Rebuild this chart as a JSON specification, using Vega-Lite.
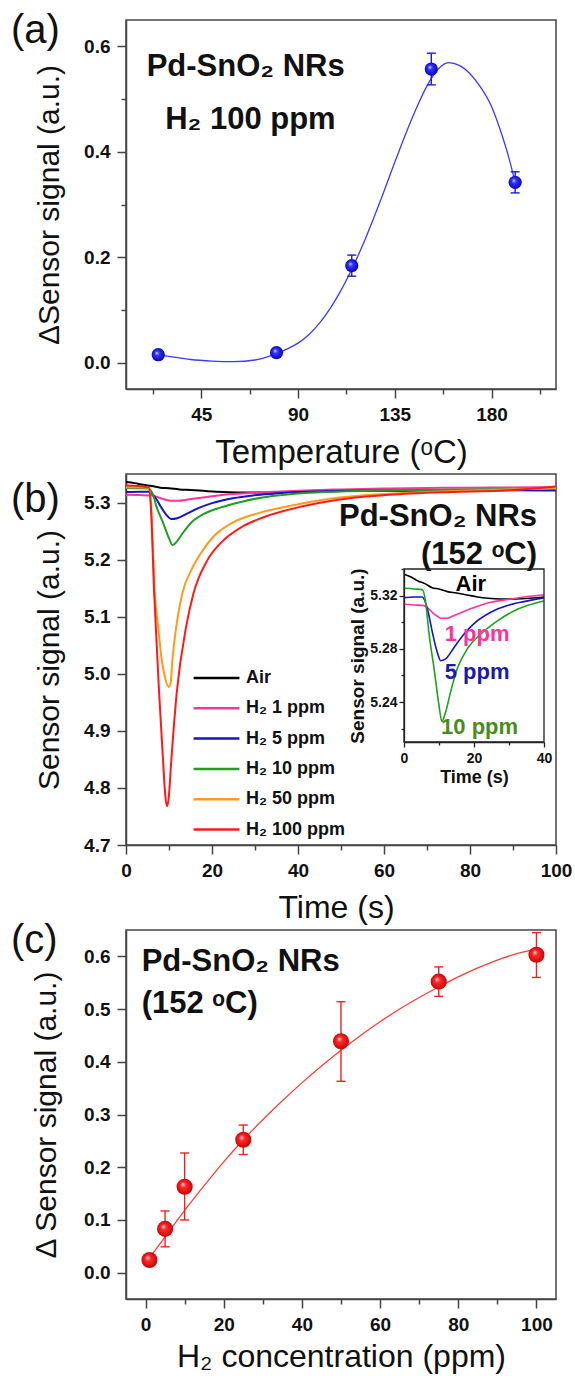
{
  "$schema": "https://vega.github.io/schema/vega-lite/v6.json",
  "background": "white",
  "padding": {"left": 10, "top": 10, "right": 5, "bottom": 2},
  "bounds": "flush",
  "spacing": 85,
  "datasets": {
    "curveA": [
      {"T": 25, "v": 0.015}, {"T": 30, "v": 0.012}, {"T": 40, "v": 0.006}, {"T": 50, "v": 0.003},
      {"T": 60, "v": 0.002}, {"T": 70, "v": 0.005}, {"T": 75, "v": 0.01}, {"T": 80, "v": 0.017},
      {"T": 85, "v": 0.026}, {"T": 90, "v": 0.037}, {"T": 95, "v": 0.053}, {"T": 100, "v": 0.075},
      {"T": 105, "v": 0.103}, {"T": 110, "v": 0.137}, {"T": 115, "v": 0.177}, {"T": 120, "v": 0.222},
      {"T": 125, "v": 0.272}, {"T": 130, "v": 0.325}, {"T": 135, "v": 0.38}, {"T": 140, "v": 0.433},
      {"T": 145, "v": 0.482}, {"T": 150, "v": 0.525}, {"T": 155, "v": 0.556}, {"T": 160, "v": 0.569},
      {"T": 165, "v": 0.564}, {"T": 170, "v": 0.548}, {"T": 175, "v": 0.522}, {"T": 180, "v": 0.486},
      {"T": 185, "v": 0.43}, {"T": 188, "v": 0.39}, {"T": 191, "v": 0.342}
    ],
    "pointsA": [
      {"T": 25, "v": 0.015, "lo": 0.011, "hi": 0.019},
      {"T": 80, "v": 0.019, "lo": 0.015, "hi": 0.023},
      {"T": 115, "v": 0.184, "lo": 0.164, "hi": 0.204},
      {"T": 152, "v": 0.557, "lo": 0.527, "hi": 0.587},
      {"T": 191, "v": 0.342, "lo": 0.322, "hi": 0.362}
    ],
    "traces": [
      {"s": "Air", "t": 0, "v": 5.336}, {"s": "Air", "t": 2, "v": 5.334}, {"s": "Air", "t": 4, "v": 5.331},
      {"s": "Air", "t": 6, "v": 5.329}, {"s": "Air", "t": 8, "v": 5.326}, {"s": "Air", "t": 10, "v": 5.325},
      {"s": "Air", "t": 12.4, "v": 5.323}, {"s": "Air", "t": 15, "v": 5.322}, {"s": "Air", "t": 18, "v": 5.3205},
      {"s": "Air", "t": 21, "v": 5.319}, {"s": "Air", "t": 24, "v": 5.318}, {"s": "Air", "t": 27.6, "v": 5.3175},
      {"s": "Air", "t": 32, "v": 5.3175}, {"s": "Air", "t": 36, "v": 5.318}, {"s": "Air", "t": 40, "v": 5.319},
      {"s": "Air", "t": 50, "v": 5.32}, {"s": "Air", "t": 60, "v": 5.3205}, {"s": "Air", "t": 70, "v": 5.321},
      {"s": "Air", "t": 80, "v": 5.321}, {"s": "Air", "t": 90, "v": 5.322}, {"s": "Air", "t": 100, "v": 5.322},

      {"s": "H₂ 1 ppm", "t": 0, "v": 5.3135}, {"s": "H₂ 1 ppm", "t": 3, "v": 5.313}, {"s": "H₂ 1 ppm", "t": 5.7, "v": 5.3125},
      {"s": "H₂ 1 ppm", "t": 7.1, "v": 5.31}, {"s": "H₂ 1 ppm", "t": 8.3, "v": 5.3068}, {"s": "H₂ 1 ppm", "t": 9.5, "v": 5.3045},
      {"s": "H₂ 1 ppm", "t": 10.5, "v": 5.303}, {"s": "H₂ 1 ppm", "t": 12.4, "v": 5.303}, {"s": "H₂ 1 ppm", "t": 13.8, "v": 5.3045},
      {"s": "H₂ 1 ppm", "t": 15.2, "v": 5.306}, {"s": "H₂ 1 ppm", "t": 17.5, "v": 5.3085}, {"s": "H₂ 1 ppm", "t": 20, "v": 5.311},
      {"s": "H₂ 1 ppm", "t": 24.8, "v": 5.315}, {"s": "H₂ 1 ppm", "t": 29.5, "v": 5.317}, {"s": "H₂ 1 ppm", "t": 34.3, "v": 5.319},
      {"s": "H₂ 1 ppm", "t": 40, "v": 5.3207}, {"s": "H₂ 1 ppm", "t": 45, "v": 5.322}, {"s": "H₂ 1 ppm", "t": 50, "v": 5.323},
      {"s": "H₂ 1 ppm", "t": 60, "v": 5.3245}, {"s": "H₂ 1 ppm", "t": 70, "v": 5.3255}, {"s": "H₂ 1 ppm", "t": 80, "v": 5.326},
      {"s": "H₂ 1 ppm", "t": 90, "v": 5.3265}, {"s": "H₂ 1 ppm", "t": 100, "v": 5.327},

      {"s": "H₂ 5 ppm", "t": 0, "v": 5.3185}, {"s": "H₂ 5 ppm", "t": 3, "v": 5.319}, {"s": "H₂ 5 ppm", "t": 5.2, "v": 5.319},
      {"s": "H₂ 5 ppm", "t": 6.7, "v": 5.31}, {"s": "H₂ 5 ppm", "t": 8.1, "v": 5.2925}, {"s": "H₂ 5 ppm", "t": 9.5, "v": 5.2775},
      {"s": "H₂ 5 ppm", "t": 10.5, "v": 5.271}, {"s": "H₂ 5 ppm", "t": 11.9, "v": 5.2725}, {"s": "H₂ 5 ppm", "t": 14.3, "v": 5.281},
      {"s": "H₂ 5 ppm", "t": 17.1, "v": 5.291}, {"s": "H₂ 5 ppm", "t": 20, "v": 5.299}, {"s": "H₂ 5 ppm", "t": 24.8, "v": 5.3075},
      {"s": "H₂ 5 ppm", "t": 29.5, "v": 5.3125}, {"s": "H₂ 5 ppm", "t": 34.3, "v": 5.3155}, {"s": "H₂ 5 ppm", "t": 40, "v": 5.3183},
      {"s": "H₂ 5 ppm", "t": 45, "v": 5.3195}, {"s": "H₂ 5 ppm", "t": 50, "v": 5.3205}, {"s": "H₂ 5 ppm", "t": 60, "v": 5.321},
      {"s": "H₂ 5 ppm", "t": 70, "v": 5.3215}, {"s": "H₂ 5 ppm", "t": 80, "v": 5.3215}, {"s": "H₂ 5 ppm", "t": 90, "v": 5.3215},
      {"s": "H₂ 5 ppm", "t": 100, "v": 5.321},

      {"s": "H₂ 10 ppm", "t": 0, "v": 5.3255}, {"s": "H₂ 10 ppm", "t": 3, "v": 5.325}, {"s": "H₂ 10 ppm", "t": 5.2, "v": 5.3245},
      {"s": "H₂ 10 ppm", "t": 6.2, "v": 5.315}, {"s": "H₂ 10 ppm", "t": 7.1, "v": 5.2925}, {"s": "H₂ 10 ppm", "t": 8.6, "v": 5.265},
      {"s": "H₂ 10 ppm", "t": 10, "v": 5.2375}, {"s": "H₂ 10 ppm", "t": 10.8, "v": 5.2255}, {"s": "H₂ 10 ppm", "t": 11.9, "v": 5.2325},
      {"s": "H₂ 10 ppm", "t": 13.3, "v": 5.2475}, {"s": "H₂ 10 ppm", "t": 15.2, "v": 5.265}, {"s": "H₂ 10 ppm", "t": 18.1, "v": 5.28},
      {"s": "H₂ 10 ppm", "t": 21.9, "v": 5.291}, {"s": "H₂ 10 ppm", "t": 26.7, "v": 5.301}, {"s": "H₂ 10 ppm", "t": 31.4, "v": 5.3085},
      {"s": "H₂ 10 ppm", "t": 35.2, "v": 5.3125}, {"s": "H₂ 10 ppm", "t": 40, "v": 5.316}, {"s": "H₂ 10 ppm", "t": 45, "v": 5.318},
      {"s": "H₂ 10 ppm", "t": 50, "v": 5.3195}, {"s": "H₂ 10 ppm", "t": 60, "v": 5.321}, {"s": "H₂ 10 ppm", "t": 70, "v": 5.322},
      {"s": "H₂ 10 ppm", "t": 80, "v": 5.323}, {"s": "H₂ 10 ppm", "t": 90, "v": 5.3235}, {"s": "H₂ 10 ppm", "t": 100, "v": 5.324},

      {"s": "H₂ 50 ppm", "t": 0, "v": 5.327}, {"s": "H₂ 50 ppm", "t": 3, "v": 5.327}, {"s": "H₂ 50 ppm", "t": 5.3, "v": 5.326},
      {"s": "H₂ 50 ppm", "t": 5.8, "v": 5.3}, {"s": "H₂ 50 ppm", "t": 6.7, "v": 5.14}, {"s": "H₂ 50 ppm", "t": 7.5, "v": 5.08},
      {"s": "H₂ 50 ppm", "t": 8.3, "v": 5.025}, {"s": "H₂ 50 ppm", "t": 9.2, "v": 4.99}, {"s": "H₂ 50 ppm", "t": 9.9, "v": 4.977},
      {"s": "H₂ 50 ppm", "t": 10.4, "v": 4.985}, {"s": "H₂ 50 ppm", "t": 10.8, "v": 5.025}, {"s": "H₂ 50 ppm", "t": 11.7, "v": 5.083},
      {"s": "H₂ 50 ppm", "t": 13.1, "v": 5.141}, {"s": "H₂ 50 ppm", "t": 15.2, "v": 5.182}, {"s": "H₂ 50 ppm", "t": 17.4, "v": 5.211},
      {"s": "H₂ 50 ppm", "t": 20.3, "v": 5.24}, {"s": "H₂ 50 ppm", "t": 24.6, "v": 5.264}, {"s": "H₂ 50 ppm", "t": 30.6, "v": 5.281},
      {"s": "H₂ 50 ppm", "t": 37.4, "v": 5.293}, {"s": "H₂ 50 ppm", "t": 45.9, "v": 5.305}, {"s": "H₂ 50 ppm", "t": 56, "v": 5.313},
      {"s": "H₂ 50 ppm", "t": 68.9, "v": 5.318}, {"s": "H₂ 50 ppm", "t": 85, "v": 5.322}, {"s": "H₂ 50 ppm", "t": 100, "v": 5.325},

      {"s": "H₂ 100 ppm", "t": 0, "v": 5.33}, {"s": "H₂ 100 ppm", "t": 3, "v": 5.329}, {"s": "H₂ 100 ppm", "t": 5.3, "v": 5.327},
      {"s": "H₂ 100 ppm", "t": 5.8, "v": 5.29}, {"s": "H₂ 100 ppm", "t": 6.55, "v": 5.141}, {"s": "H₂ 100 ppm", "t": 7.7, "v": 4.967},
      {"s": "H₂ 100 ppm", "t": 8.6, "v": 4.85}, {"s": "H₂ 100 ppm", "t": 9.1, "v": 4.79}, {"s": "H₂ 100 ppm", "t": 9.5, "v": 4.768},
      {"s": "H₂ 100 ppm", "t": 9.9, "v": 4.78}, {"s": "H₂ 100 ppm", "t": 10.55, "v": 4.85}, {"s": "H₂ 100 ppm", "t": 11.8, "v": 4.967},
      {"s": "H₂ 100 ppm", "t": 14, "v": 5.083}, {"s": "H₂ 100 ppm", "t": 15.7, "v": 5.141}, {"s": "H₂ 100 ppm", "t": 19, "v": 5.2},
      {"s": "H₂ 100 ppm", "t": 22, "v": 5.229}, {"s": "H₂ 100 ppm", "t": 27.1, "v": 5.258}, {"s": "H₂ 100 ppm", "t": 32.3, "v": 5.275},
      {"s": "H₂ 100 ppm", "t": 40.8, "v": 5.293}, {"s": "H₂ 100 ppm", "t": 49.3, "v": 5.305}, {"s": "H₂ 100 ppm", "t": 60.3, "v": 5.313},
      {"s": "H₂ 100 ppm", "t": 73, "v": 5.318}, {"s": "H₂ 100 ppm", "t": 90, "v": 5.322}, {"s": "H₂ 100 ppm", "t": 100, "v": 5.328}
    ],
    "curveC": [
      {"c": 1, "v": 0.028}, {"c": 2, "v": 0.038}, {"c": 5, "v": 0.068}, {"c": 7.5, "v": 0.093}, {"c": 10, "v": 0.118},
      {"c": 15, "v": 0.165}, {"c": 20, "v": 0.21}, {"c": 25, "v": 0.252}, {"c": 30, "v": 0.29}, {"c": 35, "v": 0.326},
      {"c": 40, "v": 0.36}, {"c": 45, "v": 0.392}, {"c": 50, "v": 0.422}, {"c": 55, "v": 0.45}, {"c": 60, "v": 0.476},
      {"c": 65, "v": 0.5}, {"c": 70, "v": 0.522}, {"c": 75, "v": 0.542}, {"c": 80, "v": 0.561}, {"c": 85, "v": 0.578},
      {"c": 90, "v": 0.593}, {"c": 95, "v": 0.605}, {"c": 100, "v": 0.614}
    ],
    "pointsC": [
      {"c": 1, "v": 0.024, "lo": 0.016, "hi": 0.032},
      {"c": 5, "v": 0.083, "lo": 0.049, "hi": 0.117},
      {"c": 10, "v": 0.163, "lo": 0.1, "hi": 0.227},
      {"c": 25, "v": 0.252, "lo": 0.224, "hi": 0.28},
      {"c": 50, "v": 0.439, "lo": 0.363, "hi": 0.514},
      {"c": 75, "v": 0.552, "lo": 0.524, "hi": 0.58},
      {"c": 100, "v": 0.603, "lo": 0.56, "hi": 0.645}
    ]
  },
  "vconcat": [
    {
      "width": 430,
      "height": 369,
      "title": {"text": "(a)", "dx": -115, "dy": 35},
      "layer": [
        {
          "data": {"name": "curveA"},
          "mark": {"type": "line", "interpolate": "monotone", "color": "#3a3aff", "strokeWidth": 1.3},
          "encoding": {
            "x": {"field": "T", "type": "quantitative", "title": "Temperature (ᵒC)",
              "scale": {"domain": [10, 210], "nice": false, "zero": false},
              "axis": {"values": [22.5, 45, 67.5, 90, 112.5, 135, 157.5, 180, 202.5], "format": "d",
                "labelExpr": "datum.value % 45 == 0 ? datum.label : ''",
                "tickSize": {"condition": {"test": "datum.value % 45 != 0", "value": 5}, "value": 9},
                "titleFontSize": 33, "titlePadding": 12}},
            "y": {"field": "v", "type": "quantitative", "title": "ΔSensor signal (a.u.)",
              "scale": {"domain": [-0.05, 0.65], "nice": false},
              "axis": {"values": [0, 0.1, 0.2, 0.3, 0.4, 0.5, 0.6], "format": ".1f",
                "labelExpr": "round(datum.value*10) % 2 == 0 ? datum.label : ''",
                "tickSize": {"condition": {"test": "round(datum.value*10) % 2 != 0", "value": 5}, "value": 9},
                "titlePadding": 19}}
          }
        },
        {
          "data": {"name": "pointsA"},
          "mark": {"type": "rule", "color": "#1a1ae0", "strokeWidth": 1.4},
          "encoding": {
            "x": {"field": "T", "type": "quantitative", "title": "Temperature (ᵒC)"},
            "y": {"field": "lo", "type": "quantitative", "title": "ΔSensor signal (a.u.)"},
            "y2": {"field": "hi"}
          }
        },
        {
          "data": {"name": "pointsA"},
          "mark": {"type": "tick", "orient": "horizontal", "size": 9, "thickness": 1.4, "color": "#1a1ae0", "opacity": 1},
          "encoding": {
            "x": {"field": "T", "type": "quantitative", "title": "Temperature (ᵒC)"},
            "y": {"field": "lo", "type": "quantitative", "title": "ΔSensor signal (a.u.)"}
          }
        },
        {
          "data": {"name": "pointsA"},
          "mark": {"type": "tick", "orient": "horizontal", "size": 9, "thickness": 1.4, "color": "#1a1ae0", "opacity": 1},
          "encoding": {
            "x": {"field": "T", "type": "quantitative", "title": "Temperature (ᵒC)"},
            "y": {"field": "hi", "type": "quantitative", "title": "ΔSensor signal (a.u.)"}
          }
        },
        {
          "data": {"name": "pointsA"},
          "mark": {"type": "point", "shape": "circle", "filled": true, "size": 175, "opacity": 1, "strokeWidth": 0,
            "fill": {"gradient": "radial", "x1": 0.38, "y1": 0.35, "r1": 0, "x2": 0.5, "y2": 0.5, "r2": 0.55,
              "stops": [{"offset": 0, "color": "#e6e6ff"}, {"offset": 0.3, "color": "#3535ff"}, {"offset": 1, "color": "#0000b5"}]}},
          "encoding": {
            "x": {"field": "T", "type": "quantitative", "title": "Temperature (ᵒC)"},
            "y": {"field": "v", "type": "quantitative", "title": "ΔSensor signal (a.u.)"}
          }
        },
        {
          "data": {"values": [{}]},
          "mark": {"type": "text", "text": "Pd-SnO₂ NRs", "fontSize": 31, "fontWeight": "bold", "align": "left", "baseline": "middle", "color": "#111"},
          "encoding": {"x": {"datum": 19.6}, "y": {"datum": 0.561}}
        },
        {
          "data": {"values": [{}]},
          "mark": {"type": "text", "text": "H₂ 100 ppm", "fontSize": 31, "fontWeight": "bold", "align": "left", "baseline": "middle", "color": "#111"},
          "encoding": {"x": {"datum": 28.2}, "y": {"datum": 0.461}}
        }
      ]
    },
    {
      "width": 430,
      "height": 371,
      "title": {"text": "(b)", "dx": -115, "dy": 50},
      "layer": [
        {
          "layer": [
            {
              "data": {"name": "traces"},
              "mark": {"type": "line", "interpolate": "monotone", "strokeWidth": 2},
              "encoding": {
                "x": {"field": "t", "type": "quantitative", "title": "Time (s)",
                  "scale": {"domain": [0, 100], "nice": false},
                  "axis": {"orient": "bottom", "values": [0, 10, 20, 30, 40, 50, 60, 70, 80, 90, 100],
                    "labelExpr": "datum.value % 20 == 0 ? datum.label : ''",
                    "tickSize": {"condition": {"test": "datum.value % 20 != 0", "value": 5}, "value": 9},
                    "titleFontSize": 32, "titlePadding": 12, "titleX": 210}},
                "y": {"field": "v", "type": "quantitative", "title": "Sensor signal (a.u.)",
                  "scale": {"domain": [4.7, 5.35], "nice": false, "zero": false},
                  "axis": {"orient": "left", "values": [4.7, 4.75, 4.8, 4.85, 4.9, 4.95, 5.0, 5.05, 5.1, 5.15, 5.2, 5.25, 5.3], "format": ".1f",
                    "labelExpr": "round(datum.value*100) % 10 == 0 ? datum.label : ''",
                    "tickSize": {"condition": {"test": "round(datum.value*100) % 10 != 0", "value": 5}, "value": 9},
                    "titlePadding": 19}},
                "color": {"field": "s", "type": "nominal",
                  "scale": {"domain": ["Air", "H₂ 1 ppm", "H₂ 5 ppm", "H₂ 10 ppm", "H₂ 50 ppm", "H₂ 100 ppm"],
                    "range": ["#000000", "#ff3399", "#1414c8", "#1fa01f", "#ff9a1a", "#ff1a1a"]},
                  "legend": {"title": null, "orient": "none", "legendX": 66, "legendY": 190, "symbolType": "stroke",
                    "symbolSize": 2100, "symbolStrokeWidth": 2.5, "labelFontSize": 18, "labelFontWeight": "bold",
                    "labelColor": "#111", "labelOffset": 5, "clipHeight": 28, "rowPadding": 2.3, "padding": 0}}
              }
            },
            {
              "data": {"values": [{}]},
              "mark": {"type": "text", "text": "Pd-SnO₂ NRs", "fontSize": 31, "fontWeight": "bold", "align": "right", "baseline": "middle", "color": "#111"},
              "encoding": {"x": {"datum": 95.6}, "y": {"datum": 5.2755}}
            },
            {
              "data": {"values": [{}]},
              "mark": {"type": "text", "text": "(152 ᵒC)", "fontSize": 31, "fontWeight": "bold", "align": "right", "baseline": "middle", "color": "#111"},
              "encoding": {"x": {"datum": 95.6}, "y": {"datum": 5.2085}}
            }
          ]
        },
        {
          "layer": [
            {
              "data": {"name": "traces"},
              "transform": [{"filter": "datum.t <= 40 && (datum.s == 'Air' || datum.s == 'H₂ 1 ppm' || datum.s == 'H₂ 5 ppm' || datum.s == 'H₂ 10 ppm')"}],
              "mark": {"type": "line", "interpolate": "monotone", "strokeWidth": 1.6},
              "encoding": {
                "x": {"field": "t", "type": "quantitative", "title": "Time (s)",
                  "scale": {"domain": [0, 40], "nice": false, "range": [278, 418]},
                  "axis": {"orient": "bottom", "offset": -103, "values": [0, 10, 20, 30, 40],
                    "labelExpr": "datum.value % 20 == 0 ? datum.label : ''",
                    "tickSize": {"condition": {"test": "datum.value % 20 != 0", "value": 3}, "value": 5},
                    "labelFontSize": 14, "labelPadding": 4, "titleFontSize": 18, "titleFontWeight": "bold", "titlePadding": 3,
                    "domainColor": "#222", "tickColor": "#222", "domainWidth": 1.3, "tickWidth": 1.3}},
                "y": {"field": "v", "type": "quantitative", "title": "Sensor signal (a.u.)",
                  "scale": {"domain": [5.21, 5.34], "nice": false, "zero": false, "range": [268, 95]},
                  "axis": {"orient": "left", "offset": -278, "values": [5.22, 5.24, 5.26, 5.28, 5.3, 5.32, 5.34], "format": ".2f",
                    "labelExpr": "round(datum.value*100) % 4 == 0 ? datum.label : ''",
                    "tickSize": {"condition": {"test": "round(datum.value*100) % 4 != 0", "value": 3}, "value": 5},
                    "labelFontSize": 14, "labelPadding": 2, "titleFontSize": 19, "titleFontWeight": "bold", "titlePadding": 2,
                    "domainColor": "#222", "tickColor": "#222", "domainWidth": 1.3, "tickWidth": 1.3}},
                "color": {"field": "s", "type": "nominal"}
              }
            },
            {
              "data": {"values": [{}]},
              "mark": {"type": "rect", "fill": "transparent", "stroke": "#222", "strokeWidth": 1.3},
              "encoding": {"x": {"datum": 0}, "x2": {"datum": 40}, "y": {"datum": 5.21}, "y2": {"datum": 5.34}}
            },
            {
              "data": {"values": [{}]},
              "mark": {"type": "text", "text": "Air", "fontSize": 22, "fontWeight": "bold", "align": "center", "baseline": "middle", "color": "#000000"},
              "encoding": {"x": {"datum": 19.1}, "y": {"datum": 5.3288}}
            },
            {
              "data": {"values": [{}]},
              "mark": {"type": "text", "text": "1 ppm", "fontSize": 22, "fontWeight": "bold", "align": "center", "baseline": "middle", "color": "#ff3399"},
              "encoding": {"x": {"datum": 20.9}, "y": {"datum": 5.2913}}
            },
            {
              "data": {"values": [{}]},
              "mark": {"type": "text", "text": "5 ppm", "fontSize": 22, "fontWeight": "bold", "align": "center", "baseline": "middle", "color": "#1a1aaa"},
              "encoding": {"x": {"datum": 20.9}, "y": {"datum": 5.2625}}
            },
            {
              "data": {"values": [{}]},
              "mark": {"type": "text", "text": "10 ppm", "fontSize": 22, "fontWeight": "bold", "align": "center", "baseline": "middle", "color": "#4a8c1c"},
              "encoding": {"x": {"datum": 21.6}, "y": {"datum": 5.2213}}
            }
          ]
        }
      ],
      "resolve": {"scale": {"x": "independent", "y": "independent"}}
    },
    {
      "width": 430,
      "height": 369,
      "title": {"text": "(c)", "dx": -115, "dy": 35},
      "layer": [
        {
          "data": {"name": "curveC"},
          "mark": {"type": "line", "interpolate": "monotone", "color": "#ff3b3b", "strokeWidth": 1.3},
          "encoding": {
            "x": {"field": "c", "type": "quantitative", "title": "H₂ concentration (ppm)",
              "scale": {"domain": [-5, 105], "nice": false, "zero": false},
              "axis": {"values": [0, 10, 20, 30, 40, 50, 60, 70, 80, 90, 100],
                "labelExpr": "datum.value % 20 == 0 ? datum.label : ''",
                "tickSize": {"condition": {"test": "datum.value % 20 != 0", "value": 5}, "value": 9},
                "titleFontSize": 32, "titlePadding": 7}},
            "y": {"field": "v", "type": "quantitative", "title": "Δ Sensor signal (a.u.)",
              "scale": {"domain": [-0.05, 0.65], "nice": false},
              "axis": {"values": [0, 0.05, 0.1, 0.15, 0.2, 0.25, 0.3, 0.35, 0.4, 0.45, 0.5, 0.55, 0.6], "format": ".1f",
                "labelExpr": "round(datum.value*100) % 10 == 0 ? datum.label : ''",
                "tickSize": {"condition": {"test": "round(datum.value*100) % 10 != 0", "value": 5}, "value": 9},
                "titlePadding": 22}}
          }
        },
        {
          "data": {"name": "pointsC"},
          "mark": {"type": "rule", "color": "#ee2222", "strokeWidth": 1.4},
          "encoding": {
            "x": {"field": "c", "type": "quantitative", "title": "H₂ concentration (ppm)"},
            "y": {"field": "lo", "type": "quantitative", "title": "Δ Sensor signal (a.u.)"},
            "y2": {"field": "hi"}
          }
        },
        {
          "data": {"name": "pointsC"},
          "mark": {"type": "tick", "orient": "horizontal", "size": 9, "thickness": 1.4, "color": "#ee2222", "opacity": 1},
          "encoding": {
            "x": {"field": "c", "type": "quantitative", "title": "H₂ concentration (ppm)"},
            "y": {"field": "lo", "type": "quantitative", "title": "Δ Sensor signal (a.u.)"}
          }
        },
        {
          "data": {"name": "pointsC"},
          "mark": {"type": "tick", "orient": "horizontal", "size": 9, "thickness": 1.4, "color": "#ee2222", "opacity": 1},
          "encoding": {
            "x": {"field": "c", "type": "quantitative", "title": "H₂ concentration (ppm)"},
            "y": {"field": "hi", "type": "quantitative", "title": "Δ Sensor signal (a.u.)"}
          }
        },
        {
          "data": {"name": "pointsC"},
          "mark": {"type": "point", "shape": "circle", "filled": true, "size": 260, "opacity": 1, "strokeWidth": 0,
            "fill": {"gradient": "radial", "x1": 0.38, "y1": 0.35, "r1": 0, "x2": 0.5, "y2": 0.5, "r2": 0.55,
              "stops": [{"offset": 0, "color": "#ffe0e0"}, {"offset": 0.3, "color": "#ff2a2a"}, {"offset": 1, "color": "#c00000"}]}},
          "encoding": {
            "x": {"field": "c", "type": "quantitative", "title": "H₂ concentration (ppm)"},
            "y": {"field": "v", "type": "quantitative", "title": "Δ Sensor signal (a.u.)"}
          }
        },
        {
          "data": {"values": [{}]},
          "mark": {"type": "text", "text": "Pd-SnO₂ NRs", "fontSize": 31, "fontWeight": "bold", "align": "left", "baseline": "middle", "color": "#111"},
          "encoding": {"x": {"datum": -1}, "y": {"datum": 0.59}}
        },
        {
          "data": {"values": [{}]},
          "mark": {"type": "text", "text": "(152 ᵒC)", "fontSize": 31, "fontWeight": "bold", "align": "left", "baseline": "middle", "color": "#111"},
          "encoding": {"x": {"datum": -1}, "y": {"datum": 0.51}}
        }
      ]
    }
  ],
  "resolve": {"scale": {"color": "independent"}, "legend": {"color": "independent"}},
  "config": {
    "font": "Liberation Sans",
    "view": {"stroke": "#444444", "strokeWidth": 1.5},
    "axis": {
      "domainColor": "#444444", "domainWidth": 1.5, "tickColor": "#444444", "tickWidth": 1.5,
      "labelFont": "Liberation Sans", "labelFontWeight": "bold", "labelFontSize": 19, "labelColor": "#111111", "labelPadding": 7,
      "titleFont": "Liberation Sans", "titleFontWeight": "normal", "titleFontSize": 30, "titleColor": "#111111",
      "grid": false, "labelFlush": false, "labelOverlap": false
    },
    "title": {"font": "Liberation Sans", "fontSize": 40, "fontWeight": "normal", "color": "#111111", "anchor": "start", "frame": "group", "offset": 0, "baseline": "middle"},
    "text": {"font": "Liberation Sans"}
  }
}
